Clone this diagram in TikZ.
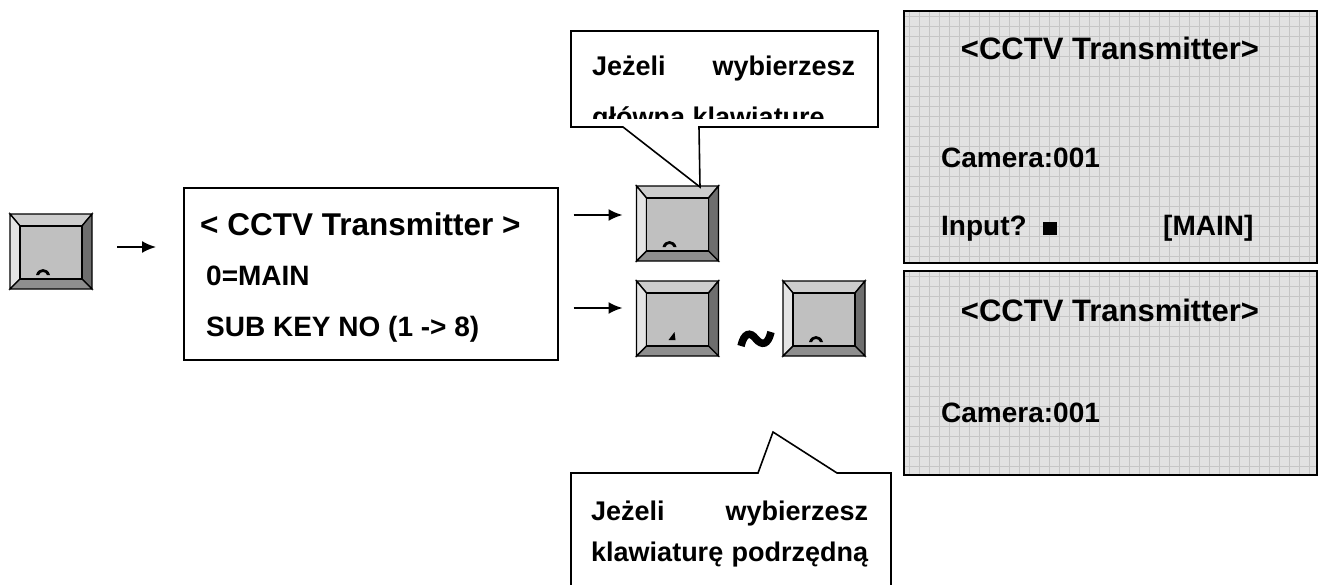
\documentclass[tikz,border=0pt]{standalone}
\usepackage{fontspec}
\setmainfont{Liberation Sans}
\usetikzlibrary{arrows.meta,calc}
\definecolor{bevtop}{HTML}{CDCDCD}
\definecolor{bevleft}{HTML}{E4E4E4}
\definecolor{bevright}{HTML}{6E6E6E}
\definecolor{bevbot}{HTML}{8E8E8E}
\definecolor{keyface}{HTML}{C0C0C0}
\definecolor{scrbg}{HTML}{E2E2E2}
\definecolor{scrgrid}{HTML}{C6C6C6}
\newcommand{\drawkey}[1]{%
  \coordinate (#1onw) at (#1.north west);
  \coordinate (#1one) at (#1.north east);
  \coordinate (#1ose) at (#1.south east);
  \coordinate (#1osw) at (#1.south west);
  \coordinate (#1inw) at ($(#1onw)+(10,12)$);
  \coordinate (#1ine) at ($(#1one)+(-10,12)$);
  \coordinate (#1ise) at ($(#1ose)+(-10,-10)$);
  \coordinate (#1isw) at ($(#1osw)+(10,-10)$);
  \filldraw[bevel,fill=bevtop] (#1onw) -- (#1one) -- (#1ine) -- (#1inw) -- cycle;
  \filldraw[bevel,fill=bevleft] (#1onw) -- (#1inw) -- (#1isw) -- (#1osw) -- cycle;
  \filldraw[bevel,fill=bevright] (#1one) -- (#1ose) -- (#1ise) -- (#1ine) -- cycle;
  \filldraw[bevel,fill=bevbot] (#1osw) -- (#1isw) -- (#1ise) -- (#1ose) -- cycle;
  \filldraw[bevel,fill=keyface] (#1inw) rectangle (#1ise);
}
\newcommand{\keycap}[1]{%
  \fill ($(#1.south west)+(26,-14)$) .. controls ($(#1.south west)+(28,-22)$) and ($(#1.south west)+(38,-22)$) .. ($(#1.south west)+(40,-14)$)
    -- ($(#1.south west)+(37,-14)$) .. controls ($(#1.south west)+(36,-18)$) and ($(#1.south west)+(30,-18)$) .. ($(#1.south west)+(29,-14)$) -- cycle;
}
\begin{document}
\begin{tikzpicture}[x=1pt,y=-1pt,
  bevel/.style={draw=black,line width=1.4pt,line join=miter},
  keynode/.style={minimum width=82pt,minimum height=75pt,inner sep=0pt,outer sep=0pt},
  arr/.style={line width=1.9pt,-{Latex[length=14pt,width=12pt]}},
  body/.style={inner sep=0pt,anchor=base west,font=\bfseries\fontsize{28}{34}\selectfont},
  ttl/.style={inner sep=0pt,anchor=base,font=\bfseries\fontsize{31}{36}\selectfont},
  ctext/.style={inner sep=0pt,anchor=base west,font=\bfseries\fontsize{27}{32}\selectfont},
  boxline/.style={draw=black,line width=1.6pt},
  scr/.style={fill=scrbg,minimum width=413pt,inner sep=0pt,outer sep=0pt,anchor=north west},
  gridl/.style={draw=scrgrid,line width=0.8pt}
]
\useasboundingbox (0,0) rectangle (1323,584);
\clip (0,0) rectangle (1323,584);

% keys
\node[keynode] (k1) at (51,251.5) {};
\drawkey{k1}\keycap{k1}
\node[keynode] (k2) at (677.5,223.5) {};
\drawkey{k2}\keycap{k2}
\node[keynode] (k3) at (677.5,318.5) {};
\drawkey{k3}
\fill ($(k3.south west)+(32,-16)$) -- ($(k3.south west)+(38,-24)$) -- ($(k3.south west)+(39,-16)$) -- cycle;
\node[keynode] (k4) at (824,318.5) {};
\drawkey{k4}\keycap{k4}

% tilde
\coordinate (tl) at (756,339);
\draw[line width=7.5pt] ($(tl)+(-15,7)$) .. controls ($(tl)+(-12,-6)$) and ($(tl)+(-6,-8)$) .. (tl) .. controls ($(tl)+(6,7)$) and ($(tl)+(12,6)$) .. ($(tl)+(15,-7)$);

% main box
\node[boxline,minimum width=374pt,minimum height=172pt,anchor=north west,inner sep=0pt] (box) at (183,187) {};
\node[body,font=\bfseries\fontsize{31.5}{36}\selectfont] (bt1) at (200,235) {< CCTV Transmitter >};
\node[body] (bt2) at (206,285) {0=MAIN};
\node[body] (bt3) at (206,336) {SUB KEY NO (1 -> 8)};

% arrows
\coordinate (a1) at (0,247);
\coordinate (a2) at (0,215);
\coordinate (a3) at (0,308);
\draw[arr,shorten <=25pt,shorten >=27pt] (k1.east |- a1) -- (box.west |- a1);
\draw[arr,shorten <=15pt,shorten >=14pt] (box.east |- a2) -- (k2.west |- a2);
\draw[arr,shorten <=15pt,shorten >=14pt] (box.east |- a3) -- (k3.west |- a3);

% callout 1
\coordinate (c1tip) at (700,187);
\filldraw[boxline,fill=white,line join=miter] (571,31) -- (878,31) -- (878,127) -- (699,127) -- (c1tip) -- (623,127) -- (571,127) -- cycle;
\node[ctext] (c1a) at (592,75) {\makebox[263pt][s]{Jeżeli\hfill wybierzesz}};
\begin{scope}
\clip (572,32) rectangle (877,118);
\node[ctext] (c1b) at (592,126) {główna klawiaturę};
\end{scope}

% callout 2
\coordinate (c2tip) at (773,432);
\filldraw[boxline,fill=white,line join=miter] (571,600) -- (571,473) -- (758,473) -- (c2tip) -- (837,473) -- (891,473) -- (891,600);
\node[ctext] (c2a) at (591,520) {\makebox[277pt][s]{Jeżeli\hfill wybierzesz}};
\node[ctext] (c2b) at (591,561) {\makebox[277pt][s]{klawiaturę\hfill podrzędną}};

% screen 1
\node[scr,minimum height=252pt] (s1) at (904,11) {};
\foreach \gx in {909,919,...,1315} {\draw[gridl] (\gx,11) -- (\gx,263);}
\foreach \gy in {16,26,...,262} {\draw[gridl] (904,\gy) -- (1317,\gy);}
\draw[line width=2pt] (s1.north west) rectangle (s1.south east);
\node[ttl] (s1t) at (1110,59) {<CCTV Transmitter>};
\node[body] (s1c) at (941,167) {Camera:001};
\node[body] (s1i) at (941,235) {Input?};
\fill (1043,221.5) rectangle (1057,235);
\node[body] (s1m) at (1163,235) {[MAIN]};

% screen 2
\node[scr,minimum height=204pt] (s2) at (904,271) {};
\foreach \gx in {909,919,...,1315} {\draw[gridl] (\gx,271) -- (\gx,475);}
\foreach \gy in {276,286,...,474} {\draw[gridl] (904,\gy) -- (1317,\gy);}
\draw[line width=2pt] (s2.north west) rectangle (s2.south east);
\node[ttl] (s2t) at (1110,321) {<CCTV Transmitter>};
\node[body] (s2c) at (941,422) {Camera:001};
\end{tikzpicture}
\end{document}
